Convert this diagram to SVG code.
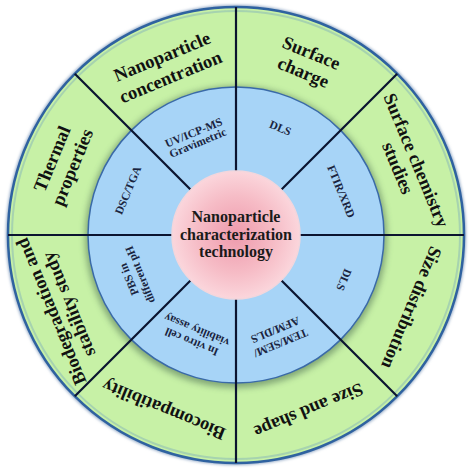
<svg xmlns="http://www.w3.org/2000/svg" width="474" height="472" viewBox="0 0 474 472">
<defs>
<radialGradient id="pink" cx="50%" cy="50%" r="50%">
<stop offset="0" stop-color="#ee9aac"/>
<stop offset="0.6" stop-color="#f6bcc6"/>
<stop offset="1" stop-color="#fbd6dc"/>
</radialGradient>
<filter id="blur" x="-20%" y="-20%" width="140%" height="140%">
<feGaussianBlur stdDeviation="3"/>
</filter>
<filter id="blur2" x="-20%" y="-20%" width="140%" height="140%">
<feGaussianBlur stdDeviation="1.5"/>
</filter>
</defs>
<style>
.o{font-family:"Liberation Serif","Times New Roman",serif;font-weight:bold;font-size:18.5px;fill:#111;text-anchor:middle}
.i{font-family:"Liberation Serif","Times New Roman",serif;font-weight:bold;font-size:11.5px;fill:#1a2440;text-anchor:middle}
.c{font-family:"Liberation Serif","Times New Roman",serif;font-weight:bold;font-size:16px;fill:#1a1a1a;text-anchor:middle}
.ln{stroke:#0b1430;stroke-width:2.2}
</style>
<rect width="474" height="472" fill="#ffffff"/>
<g id="rings">
<circle cx="236" cy="235" r="230" fill="#8fa6c4" filter="url(#blur2)"/>
<circle cx="236" cy="235" r="228" fill="#c7f1a6" stroke="#2f62a0" stroke-width="2.5"/>
<circle cx="236" cy="235" r="224" fill="none" stroke="#6a9cc0" stroke-width="2" opacity="0.35"/>
<circle cx="236" cy="237" r="151" fill="#4a6a50" opacity="0.55" filter="url(#blur)"/>
<circle cx="236" cy="235" r="148" fill="#a7d4f7" stroke="#3a6aa8" stroke-width="1.5"/>
</g>
<g id="connectors">
<line class="ln" x1="236" y1="172" x2="236" y2="7"/>
<line class="ln" x1="236" y1="298" x2="236" y2="463"/>
<line class="ln" x1="173" y1="235" x2="8" y2="235"/>
<line class="ln" x1="299" y1="235" x2="464" y2="235"/>
<line class="ln" x1="191.5" y1="190.5" x2="74.8" y2="73.8"/>
<line class="ln" x1="280.5" y1="190.5" x2="397.2" y2="73.8"/>
<line class="ln" x1="191.5" y1="279.5" x2="74.8" y2="396.2"/>
<line class="ln" x1="280.5" y1="279.5" x2="397.2" y2="396.2"/>
</g>
<g id="center">
<circle cx="236" cy="235" r="64" fill="url(#pink)" stroke="#f3d6dc" stroke-width="1.5"/>
<text class="c" x="236" y="222">Nanoparticle</text>
<text class="c" x="236" y="240">characterization</text>
<text class="c" x="236" y="257">technology</text>
</g>
<g id="nanoparticle-concentration" transform="translate(236,235) rotate(-22.5)">
<text class="o" y="-187">Nanoparticle</text>
<text class="o" y="-165">concentration</text>
<text class="i" y="-107">UV/ICP-MS</text>
<text class="i" y="-96">Gravimetric</text>
</g>
<g id="surface-charge" transform="translate(236,235) rotate(22.5)">
<text class="o" y="-191">Surface</text>
<text class="o" y="-170">charge</text>
<text class="i" y="-112">DLS</text>
</g>
<g id="surface-chemistry" transform="translate(236,235) rotate(67.5)">
<text class="o" y="-189">Surface chemistry</text>
<text class="o" y="-169">studies</text>
<text class="i" y="-110">FTIR/XRD</text>
</g>
<g id="size-distribution" transform="translate(236,235) rotate(112.5)">
<text class="o" y="-184">Size distribution</text>
<text class="i" y="-113">DLS</text>
</g>
<g id="size-shape" transform="translate(236,235) rotate(157.5)">
<text class="o" y="-184">Size and shape</text>
<text class="i" y="-113">TEM/SEM/</text>
<text class="i" y="-99">AFM/DLS</text>
</g>
<g id="biocompatibility" transform="translate(236,235) rotate(202.5)">
<text class="o" y="-183">Biocompatibility</text>
<text class="i" y="-112">In vitro cell</text>
<text class="i" y="-99">viability assay</text>
</g>
<g id="biodegradation" transform="translate(236,235) rotate(247.5)">
<text class="o" y="-194">Biodegradation and</text>
<text class="o" y="-175">stability study</text>
<text class="i" y="-112">PBS in</text>
<text class="i" y="-100">different pH</text>
</g>
<g id="thermal-properties" transform="translate(236,235) rotate(-67.5)">
<text class="o" y="-193">Thermal</text>
<text class="o" y="-171">properties</text>
<text class="i" y="-113">DSC/TGA</text>
</g>
</svg>
